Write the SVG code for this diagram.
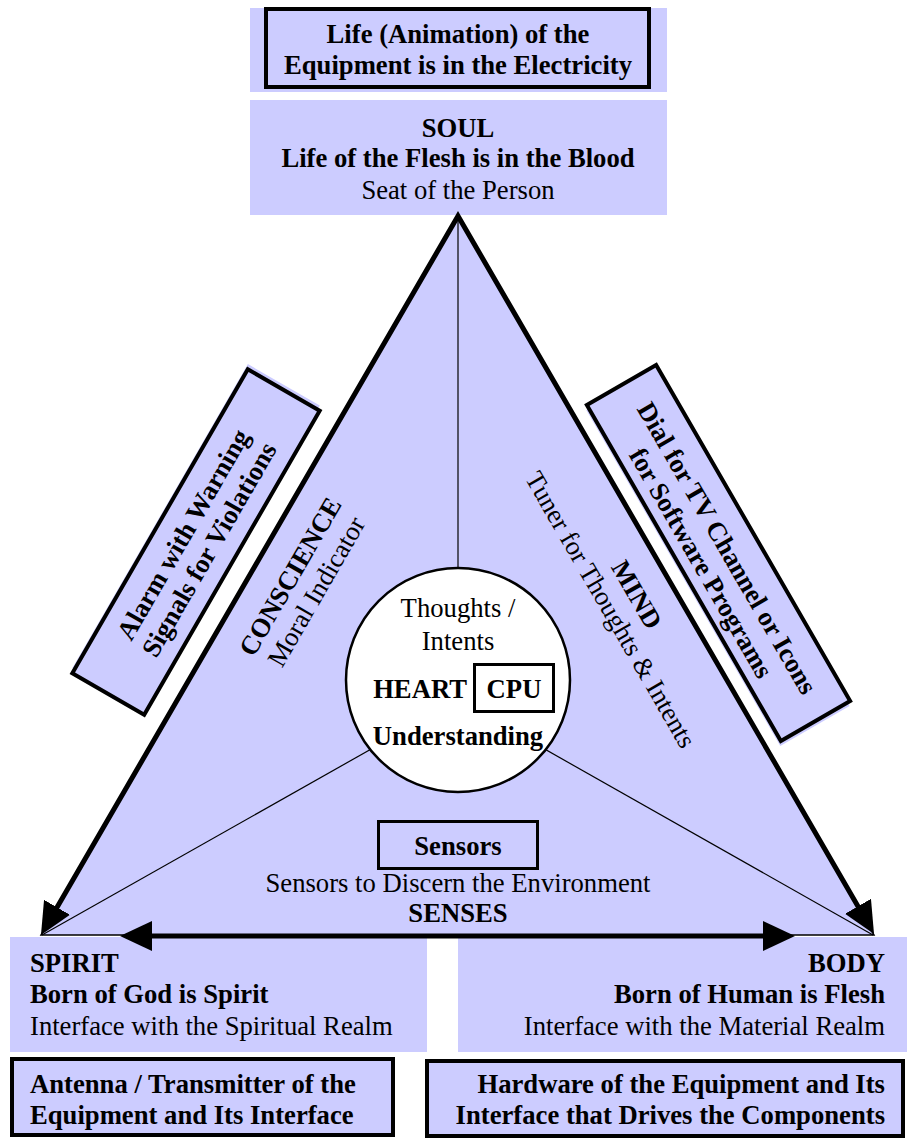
<svg xmlns="http://www.w3.org/2000/svg" width="907" height="1139" viewBox="0 0 907 1139">
<defs>
<style>
text{font-family:"Liberation Serif","Times New Roman",serif;font-size:26.67px;fill:#000}
.b{font-weight:bold}
.c{text-anchor:middle}
.e{text-anchor:end}
.bg{fill:#CCCCFF;stroke:none}
.bx{fill:#CCCCFF;stroke:#000;stroke-width:4}
.bo{fill:none;stroke:#000;stroke-width:3}
.thin{stroke:#000;stroke-width:1.2;fill:none}
.thick{stroke:#000;stroke-width:5;fill:none}
</style>
<marker id="ah" markerUnits="userSpaceOnUse" markerWidth="32" markerHeight="30" refX="12" refY="15" orient="auto-start-reverse" viewBox="0 0 32 30">
<path d="M0,0 L32,15 L0,30 Z" fill="#000"/>
</marker>
</defs>

<g id="triangle">
<polygon points="458,216 41,935 874,935" fill="#CCCCFF" stroke="#000" stroke-width="1.5"/>
</g>

<g id="thin-connectors">
<line class="thin" x1="458" y1="216" x2="458" y2="600"/>
<line class="thin" x1="458" y1="700" x2="42" y2="935"/>
<line class="thin" x1="458" y1="700" x2="873" y2="935"/>
</g>

<g id="life-box">
<rect class="bg" x="250" y="8" width="417" height="84"/>
<rect class="bx" x="266" y="9" width="383" height="78"/>
<text class="b c" x="458" y="43">Life (Animation) of the</text>
<text class="b c" x="458" y="74">Equipment is in the Electricity</text>
</g>

<g id="soul">
<rect class="bg" x="250" y="100" width="417" height="115"/>
<text class="b c" x="458" y="137">SOUL</text>
<text class="b c" x="458" y="167">Life of the Flesh is in the Blood</text>
<text class="c" x="458" y="199">Seat of the Person</text>
</g>

<g id="heart">
<circle cx="458" cy="680" r="112" fill="#fff" stroke="#000" stroke-width="2.5"/>
<text class="c" x="458" y="617">Thoughts /</text>
<text class="c" x="458" y="650">Intents</text>
<text class="b e" x="467" y="698">HEART</text>
<rect class="bo" x="474.5" y="664.5" width="79" height="47"/>
<text class="b c" x="514" y="698">CPU</text>
<text class="b c" x="458" y="745">Understanding</text>
</g>

<g id="conscience" transform="translate(298,581) rotate(-60)">
<text class="b c" x="0" y="0">CONSCIENCE</text>
<text class="c" x="0" y="30">Moral Indicator</text>
</g>

<g id="mind" transform="translate(629,599) rotate(60)">
<text class="b c" x="0" y="0">MIND</text>
<text class="c" x="0" y="30">Tuner for Thoughts &amp; Intents</text>
</g>

<g id="alarm" transform="translate(196,542) rotate(-60)">
<rect class="bg" x="-171" y="-44" width="351" height="83"/>
<rect class="bx" x="-175.5" y="-41.5" width="351" height="83" fill="none"/>
<text class="b c" x="0" y="-6">Alarm with Warning</text>
<text class="b c" x="0" y="24">Signals for Violations</text>
</g>

<g id="dial" transform="translate(718.5,553) rotate(60)">
<rect class="bg" x="-190" y="-37" width="388" height="80"/>
<rect class="bx" x="-194" y="-40" width="388" height="80" fill="none"/>
<text class="b c" x="0" y="-1">Dial for TV Channel or Icons</text>
<text class="b c" x="0" y="29">for Software Programs</text>
</g>

<g id="sensors">
<rect class="bo" x="378.5" y="821.5" width="159" height="47"/>
<text class="b c" x="458" y="855">Sensors</text>
<text class="c" x="458" y="892">Sensors to Discern the Environment</text>
<text class="b c" x="458" y="922">SENSES</text>
</g>

<g id="spirit">
<rect class="bg" x="10" y="937" width="417" height="115"/>
<text class="b" x="30" y="972">SPIRIT</text>
<text class="b" x="30" y="1003">Born of God is Spirit</text>
<text x="30" y="1035">Interface with the Spiritual Realm</text>
</g>

<g id="body">
<rect class="bg" x="458" y="937" width="449" height="115"/>
<text class="b e" x="885" y="972">BODY</text>
<text class="b e" x="885" y="1003">Born of Human is Flesh</text>
<text class="e" x="885" y="1035">Interface with the Material Realm</text>
</g>

<g id="antenna">
<rect class="bx" x="12" y="1059" width="381" height="76"/>
<text class="b" x="30" y="1093">Antenna / Transmitter of the</text>
<text class="b" x="30" y="1124">Equipment and Its Interface</text>
</g>

<g id="hardware">
<rect class="bx" x="427" y="1061" width="476" height="75"/>
<text class="b e" x="885" y="1093">Hardware of the Equipment and Its</text>
<text class="b e" x="885" y="1124">Interface that Drives the Components</text>
</g>

<g id="connectors">
<path class="thick" d="M51,917.7 L458,216 L864,916.7" stroke-linejoin="miter" marker-start="url(#ah)" marker-end="url(#ah)"/>
<line class="thick" x1="140" y1="936" x2="775" y2="936" marker-start="url(#ah)" marker-end="url(#ah)"/>
</g>
</svg>
